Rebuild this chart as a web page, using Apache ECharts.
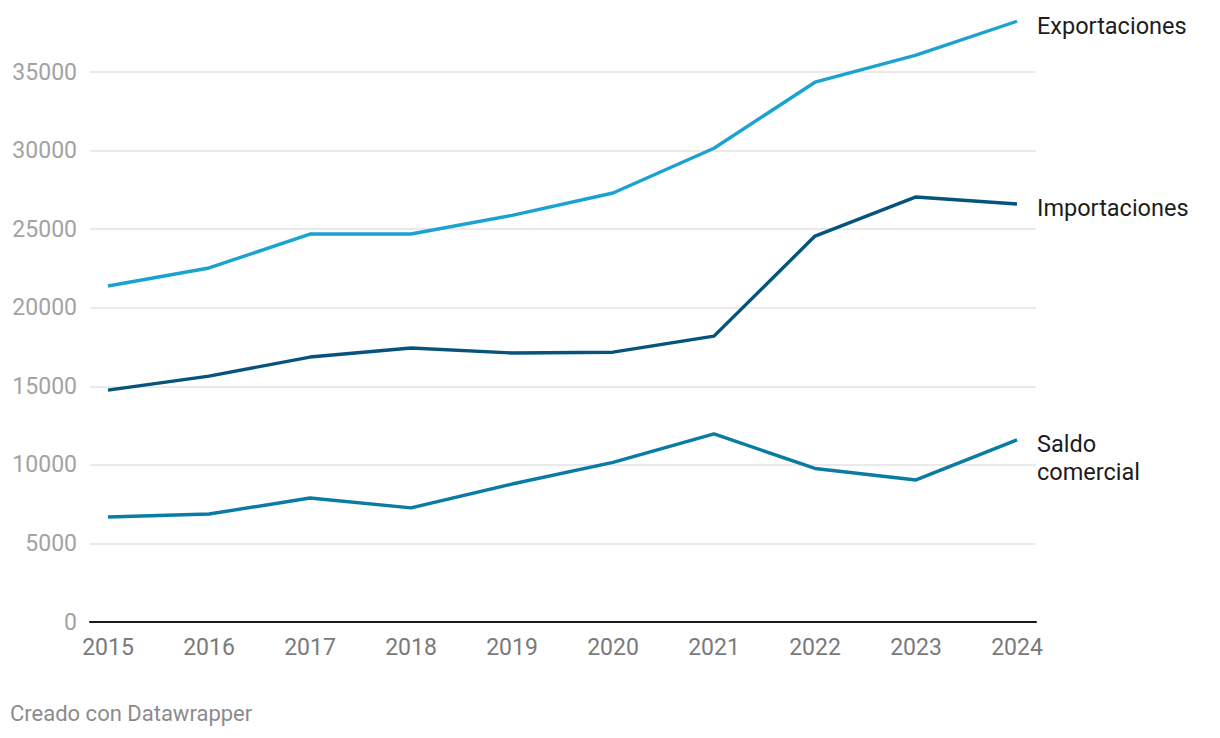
<!DOCTYPE html>
<html>
<head>
<meta charset="utf-8">
<script src="https://cdn.jsdelivr.net/npm/echarts@6/dist/echarts.min.js"></script>
<style>
html,body{margin:0;padding:0;background:#fff;}
#chart{width:1220px;height:738px;}
</style>
</head>
<body>
<div id="chart"></div>
<script>
const years = ['2015','2016','2017','2018','2019','2020','2021','2022','2023','2024'];
const exportaciones = [21380, 22530, 24690, 24690, 25880, 27300, 30150, 34350, 36080, 38230];
const importaciones = [14760, 15650, 16860, 17440, 17120, 17170, 18190, 24560, 27050, 26600];
const saldo = [6680, 6870, 7890, 7260, 8780, 10160, 11970, 9770, 9040, 11590];
const yTicks = [0, 5000, 10000, 15000, 20000, 25000, 30000, 35000];

(function () {
const chart = echarts.init(document.getElementById('chart'), null, {renderer: 'svg'});
const FONT = 'Roboto';
const gridTop = 0, gridBottom = 116;
const yMax = 39583;
const gridColors = ['#e3e3e3','#e3e3e3','#e3e3e3','#e3e3e3','#e3e3e3','#e3e3e3','#e3e3e3','#e3e3e3','rgba(0,0,0,0)'];

function endLabel(text, offset) {
  return {
    show: true,
    formatter: text,
    distance: 20,
    offset: offset,
    color: '#1d1d1d',
    fontFamily: FONT,
    fontSize: 23.5,
    lineHeight: 28
  };
}

chart.setOption({
  animation: false,
  textStyle: {fontFamily: FONT},
  graphic: [{
    type: 'text', left: 10, top: 702,
    style: {text: 'Creado con Datawrapper', fill: '#8c8c8c', font: '22px Roboto'}
  }],
  grid: [
    {left: 90, right: 184, top: gridTop, bottom: gridBottom, containLabel: false},
    {left: 108, right: 203, top: gridTop, bottom: gridBottom, containLabel: false}
  ],
  xAxis: [
    {gridIndex: 0, type: 'category', data: years, show: true,
     axisLine: {show: true, lineStyle: {color: '#1a1a1a', width: 2}},
     axisTick: {show: false}, axisLabel: {show: false}, splitLine: {show: false}},
    {gridIndex: 1, type: 'category', data: years, boundaryGap: false,
     axisLine: {show: false}, axisTick: {show: false},
     axisLabel: {color: '#7a7a7a', fontSize: 23, fontFamily: FONT, margin: 14}}
  ],
  yAxis: [
    {gridIndex: 0, type: 'value', min: 0, max: yMax, interval: 5000,
     axisLine: {show: false}, axisTick: {show: false},
     axisLabel: {color: '#a3a3a3', fontSize: 23, fontFamily: FONT, margin: 13,
       showMaxLabel: false,
       formatter: v => yTicks.includes(v) ? String(v) : ''},
     splitLine: {show: true, lineStyle: {color: gridColors, width: 1.5}}},
    {gridIndex: 1, type: 'value', min: 0, max: yMax, interval: 5000, show: false,
     splitLine: {show: false}}
  ],
  series: [
    {name: 'Exportaciones', type: 'line', xAxisIndex: 1, yAxisIndex: 1, data: exportaciones,
     symbol: 'none', lineStyle: {color: '#1aa3d0', width: 3.4}, itemStyle: {color: '#1aa3d0'},
     endLabel: endLabel('Exportaciones', [0, 5])},
    {name: 'Importaciones', type: 'line', xAxisIndex: 1, yAxisIndex: 1, data: importaciones,
     symbol: 'none', lineStyle: {color: '#06537c', width: 3.4}, itemStyle: {color: '#06537c'},
     endLabel: endLabel('Importaciones', [0, 4])},
    {name: 'Saldo comercial', type: 'line', xAxisIndex: 1, yAxisIndex: 1, data: saldo,
     symbol: 'none', lineStyle: {color: '#0a7ba3', width: 3.4}, itemStyle: {color: '#0a7ba3'},
     endLabel: endLabel('Saldo\ncomercial', [0, 18])}
  ]
});
})();
</script>
</body>
</html>
